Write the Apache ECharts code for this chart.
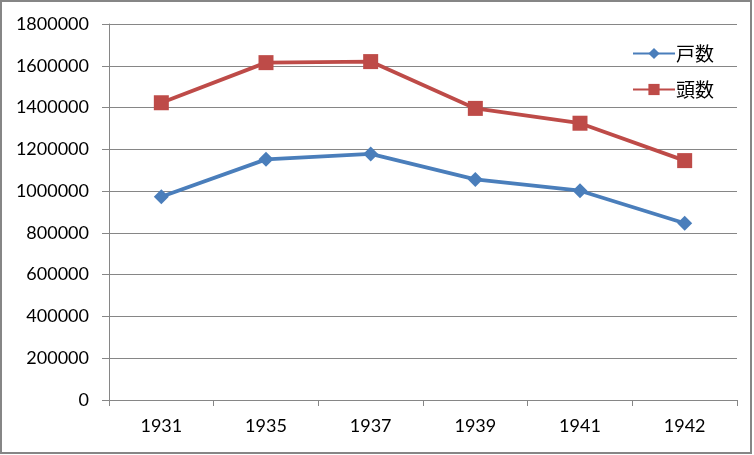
<!DOCTYPE html>
<html>
<head>
<meta charset="utf-8">
<script src="https://cdn.jsdelivr.net/npm/echarts@6/dist/echarts.min.js"></script>
<style>
html,body{margin:0;padding:0;background:#fff;}
#c{width:754px;height:455px;}
</style>
</head>
<body>
<div id="c"></div>
<script>
const categories = ['1931', '1935', '1937', '1939', '1941', '1942'];
const households = [973000, 1152000, 1178000, 1056000, 1002000, 846000];
const heads = [1423000, 1615000, 1620000, 1396000, 1325000, 1146000];
const seriesNames = ['戸数', '頭数'];

const chart = echarts.init(document.getElementById('c'));
const font = 'Lato, "Noto Sans CJK JP", sans-serif';
chart.setOption({
  animation: false,
  backgroundColor: '#fff',
  graphic: [{
    type: 'rect',
    shape: { x: 1, y: 1, width: 750, height: 452 },
    style: { fill: 'none', stroke: '#868686', lineWidth: 2 },
    z: 100
  }],
  grid: { left: 109, right: 17, top: 24, bottom: 55 },
  legend: {
    orient: 'vertical',
    left: 627,
    top: 39,
    itemGap: 17,
    itemWidth: 42,
    itemHeight: 14,
    textStyle: { fontSize: 19, color: '#000', fontFamily: '"Noto Sans CJK JP", sans-serif', padding: [0, 0, 0, -4] },
    data: seriesNames
  },
  xAxis: {
    type: 'category',
    data: categories,
    boundaryGap: true,
    axisLine: { lineStyle: { color: '#868686', width: 1 } },
    axisTick: { show: true, length: 6, lineStyle: { color: '#868686' } },
    axisLabel: { color: '#000', fontSize: 18, fontFamily: font, margin: 17 }
  },
  yAxis: {
    type: 'value',
    min: 0,
    max: 1800000,
    interval: 200000,
    axisLine: { show: true, lineStyle: { color: '#868686', width: 1 } },
    axisTick: { show: true, length: 7, lineStyle: { color: '#868686' } },
    splitLine: { lineStyle: { color: '#868686', width: 1 } },
    axisLabel: { color: '#000', fontSize: 18, fontFamily: font, margin: 20, formatter: v => String(v) }
  },
  series: [
    {
      name: seriesNames[0],
      type: 'line',
      data: households,
      symbol: 'diamond',
      symbolSize: 15,
      lineStyle: { color: '#4A7EBB', width: 3.8 },
      itemStyle: { color: '#4A7EBB' }
    },
    {
      name: seriesNames[1],
      type: 'line',
      data: heads,
      symbol: 'rect',
      symbolSize: 15,
      lineStyle: { color: '#BE4B48', width: 3.8 },
      itemStyle: { color: '#BE4B48' }
    }
  ]
});
</script>
</body>
</html>
